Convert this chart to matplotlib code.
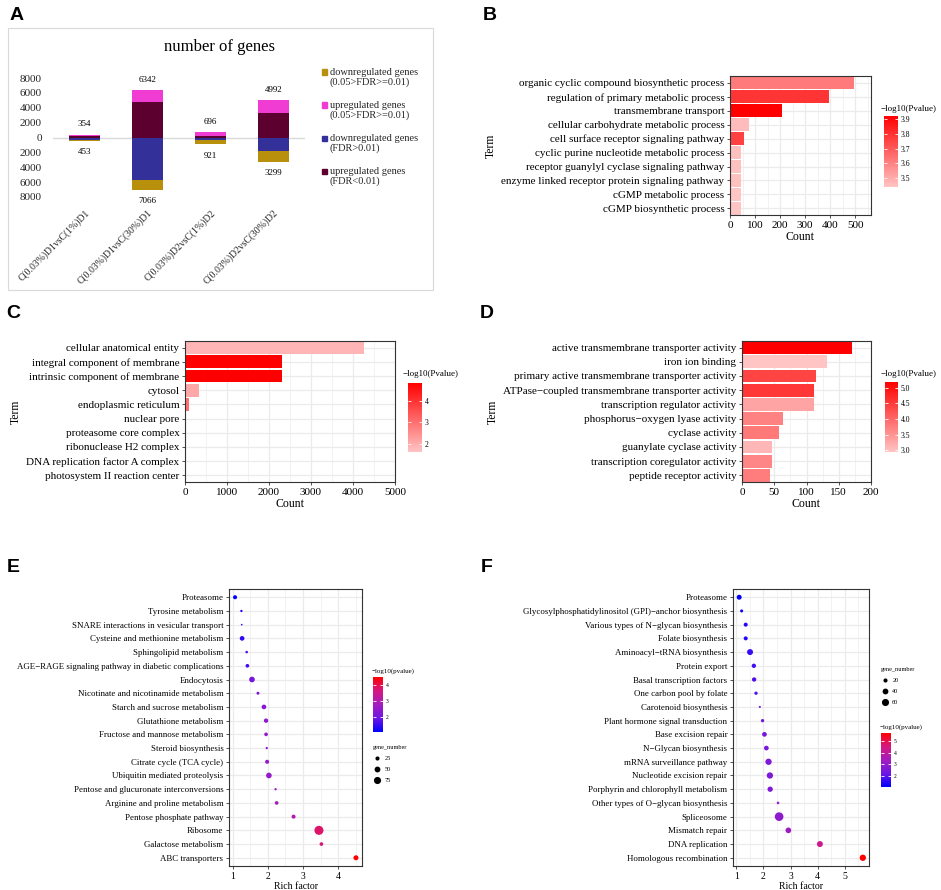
"""Six-panel DEG / GO / KEGG enrichment figure, redrawn with matplotlib."""
import numpy as np
import matplotlib

matplotlib.use("Agg")
import matplotlib.pyplot as plt
from matplotlib.cm import ScalarMappable
from matplotlib.colors import LinearSegmentedColormap, Normalize
from matplotlib.lines import Line2D
from matplotlib.patches import Rectangle
from matplotlib.ticker import MultipleLocator

plt.rcParams["font.family"] = ["Liberation Serif", "DejaVu Serif"]

# ---------------- panel A: number of DEGs ----------------
comparisons = ["C(0.03%)D1vsC(1%)D1", "C(0.03%)D1vsC(30%)D1",
               "C(0.03%)D2vsC(1%)D2", "C(0.03%)D2vsC(30%)D2"]
up_total = np.array([354, 6342, 696, 4992])
up_strong = np.array([180, 4800, 200, 3333])        # FDR<0.01
up_weak = up_total - up_strong                        # 0.05>FDR>=0.01
down_total = np.array([453, 7066, 921, 3299])
down_strong = np.array([330, 5689, 330, 1778])      # FDR>0.01 (as labelled)
down_weak = down_total - down_strong
legend_a = ["downregulated genes\n(0.05>FDR>=0.01)", "upregulated genes\n(0.05>FDR>=0.01)",
            "downregulated genes\n(FDR>0.01)", "upregulated genes\n(FDR<0.01)"]

# ---------------- panel B: GO biological process ----------------
terms_b = ["organic cyclic compound biosynthetic process", "regulation of primary metabolic process",
           "transmembrane transport", "cellular carbohydrate metabolic process",
           "cell surface receptor signaling pathway", "cyclic purine nucleotide metabolic process",
           "receptor guanylyl cyclase signaling pathway",
           "enzyme linked receptor protein signaling pathway",
           "cGMP metabolic process", "cGMP biosynthetic process"]
count_b = [495, 397, 209, 77, 56, 43, 43, 43, 43, 43]
logp_b = [3.62, 3.79, 3.92, 3.46, 3.76, 3.45, 3.45, 3.45, 3.44, 3.44]

# ---------------- panel C: GO cellular component ----------------
terms_c = ["cellular anatomical entity", "integral component of membrane",
           "intrinsic component of membrane", "cytosol", "endoplasmic reticulum",
           "nuclear pore", "proteasome core complex", "ribonuclease H2 complex",
           "DNA replication factor A complex", "photosystem II reaction center"]
count_c = [4262, 2302, 2302, 341, 103, 5, 4, 3, 3, 2]
logp_c = [1.85, 4.86, 4.86, 2.1, 3.0, 1.7, 1.8, 1.7, 1.6, 1.6]

# ---------------- panel D: GO molecular function ----------------
terms_d = ["active transmembrane transporter activity", "iron ion binding",
           "primary active transmembrane transporter activity",
           "ATPase\u2212coupled transmembrane transporter activity",
           "transcription regulator activity", "phosphorus\u2212oxygen lyase activity",
           "cyclase activity", "guanylate cyclase activity",
           "transcription coregulator activity", "peptide receptor activity"]
count_d = [171, 132, 115, 112, 111, 63, 57, 47, 46, 43]
logp_d = [5.18, 2.94, 4.40, 4.55, 3.30, 3.70, 3.80, 3.10, 3.65, 3.75]

# ---------------- panel E: KEGG pathways ----------------
path_e = ["Proteasome", "Tyrosine metabolism", "SNARE interactions in vesicular transport",
          "Cysteine and methionine metabolism", "Sphingolipid metabolism",
          "AGE\u2212RAGE signaling pathway in diabetic complications", "Endocytosis",
          "Nicotinate and nicotinamide metabolism", "Starch and sucrose metabolism",
          "Glutathione metabolism", "Fructose and mannose metabolism", "Steroid biosynthesis",
          "Citrate cycle (TCA cycle)", "Ubiquitin mediated proteolysis",
          "Pentose and glucuronate interconversions", "Arginine and proline metabolism",
          "Pentose phosphate pathway", "Ribosome", "Galactose metabolism", "ABC transporters"]
rich_e = [1.07, 1.25, 1.26, 1.27, 1.40, 1.42, 1.55, 1.72, 1.89, 1.95,
          1.95, 1.97, 1.98, 2.03, 2.22, 2.25, 2.73, 3.45, 3.52, 4.50]
genes_e = [24, 8, 4, 32, 10, 20, 47, 13, 32, 28, 20, 8, 24, 47, 8, 20, 24, 120, 20, 37]
logp_e = [1.04, 1.3, 1.3, 1.4, 1.7, 1.6, 2.0, 2.2, 2.3, 2.4,
          2.5, 2.4, 2.5, 2.5, 2.7, 2.8, 3.0, 3.8, 3.7, 4.51]

# ---------------- panel F: KEGG pathways ----------------
path_f = ["Proteasome", "Glycosylphosphatidylinositol (GPI)\u2212anchor biosynthesis",
          "Various types of N\u2212glycan biosynthesis", "Folate biosynthesis",
          "Aminoacyl\u2212tRNA biosynthesis", "Protein export", "Basal transcription factors",
          "One carbon pool by folate", "Carotenoid biosynthesis",
          "Plant hormone signal transduction", "Base excision repair", "N\u2212Glycan biosynthesis",
          "mRNA surveillance pathway", "Nucleotide excision repair",
          "Porphyrin and chlorophyll metabolism", "Other types of O\u2212glycan biosynthesis",
          "Spliceosome", "Mismatch repair", "DNA replication", "Homologous recombination"]
rich_f = [1.11, 1.20, 1.35, 1.35, 1.51, 1.65, 1.66, 1.73, 1.87, 1.97,
          2.04, 2.11, 2.19, 2.24, 2.25, 2.54, 2.58, 2.92, 4.08, 5.66]
genes_f = [29, 11, 19, 19, 42, 22, 22, 13, 5, 13, 26, 26, 47, 47, 33, 8, 88, 38, 42, 47]
logp_f = [1.12, 1.3, 1.5, 1.5, 1.7, 1.8, 1.9, 2.0, 2.2, 2.3,
          2.4, 2.5, 2.6, 2.6, 2.6, 3.0, 2.9, 3.2, 4.3, 5.63]

W, H = 941, 890
fig = plt.figure(figsize=(W / 100, H / 100), dpi=100)

pink_red = LinearSegmentedColormap.from_list("pr", ["#FFC4C4", "#FF0000"])
blue_red = LinearSegmentedColormap.from_list(
    "br", ["#0000FF", "#6E16E4", "#A41DBE", "#D61880", "#FF0000"])
GRID = "#EBEBEB"
BORDER = "#333333"


def px_axes(x0, y0, x1, y1):
    return fig.add_axes([x0 / W, 1 - y1 / H, (x1 - x0) / W, (y1 - y0) / H])


def fig_text(x, y, s, **kw):
    return fig.text(x / W, 1 - y / H, s, **kw)


def bw_frame(ax, tick_size):
    # ggplot theme_bw look
    for sp in ax.spines.values():
        sp.set_color(BORDER)
        sp.set_linewidth(0.8)
    ax.grid(True, which="major", color=GRID, lw=0.9)
    ax.grid(True, which="minor", axis="x", color=GRID, lw=0.45)
    ax.set_axisbelow(True)
    ax.tick_params(which="major", length=2.5, width=0.6, color=BORDER,
                   labelsize=tick_size, pad=1.5, labelcolor="black")
    ax.tick_params(which="minor", length=0)


def colorbar(rect, norm, cmap, ticks, fmt, title, title_xy, size):
    cax = px_axes(*rect)
    cb = fig.colorbar(ScalarMappable(norm=norm, cmap=cmap), cax=cax, ticks=ticks)
    cb.outline.set_visible(False)
    cb.set_ticklabels([fmt.format(t) for t in ticks])
    cax.tick_params(direction="in", color="white", labelcolor="black", length=2,
                    width=0.6, labelsize=size, left=True, right=True, pad=2)
    fig_text(*title_xy, title, fontsize=size + 1, ha="left", va="center")


def go_bars(rect, terms, counts, logp, xmax, xstep, cb_rect, cb_ticks, cb_fmt, cb_title_xy):
    ax = px_axes(*rect)
    y = np.arange(len(terms))
    norm = Normalize(min(logp), max(logp))
    ax.barh(y, counts, height=0.9, color=pink_red(norm(np.array(logp))), zorder=2)
    ax.set_xlim(0, xmax)
    ax.set_ylim(len(terms) - 1 + 0.47, -0.46)
    ax.set_yticks(y, terms)
    ax.xaxis.set_major_locator(MultipleLocator(xstep))
    ax.xaxis.set_minor_locator(MultipleLocator(xstep / 2))
    bw_frame(ax, 8)
    ax.set_xlabel("Count", fontsize=8.5, labelpad=1)
    ax.set_ylabel("Term", fontsize=8.5, labelpad=3)
    colorbar(cb_rect, norm, pink_red, cb_ticks, cb_fmt, "\u2212log10(Pvalue)", cb_title_xy, 5.5)
    return ax


def kegg_dots(rect, paths, rich, genes, logp, xticks, k, cb_rect, cb_ticks, cb_title_xy,
              size_vals, size_xy):
    ax = px_axes(*rect)
    y = np.arange(len(paths))
    norm = Normalize(min(logp), max(logp))
    ax.scatter(rich, y, s=k * np.array(genes), c=logp, cmap=blue_red, norm=norm,
               linewidths=0, zorder=3)
    span = max(rich) - min(rich)
    ax.set_xlim(min(rich) - 0.05 * span, max(rich) + 0.05 * span)
    ax.set_ylim(len(paths) - 1 + 0.6, -0.6)
    ax.set_yticks(y, paths)
    ax.set_xticks(xticks)
    ax.xaxis.set_minor_locator(MultipleLocator(0.5))
    bw_frame(ax, 6.4)
    ax.tick_params(axis="x", labelsize=7)
    ax.set_xlabel("Rich factor", fontsize=7, labelpad=1)
    colorbar(cb_rect, norm, blue_red, cb_ticks, "{:g}", "\u2212log10(pvalue)", cb_title_xy, 4)
    handles = [Line2D([], [], ls="", marker="o", color="black", markeredgewidth=0,
                      markersize=np.sqrt(k * v)) for v in size_vals]
    ax.legend(handles, [str(v) for v in size_vals], title="gene_number", loc="upper left",
              bbox_to_anchor=(size_xy[0] / W, 1 - size_xy[1] / H),
              bbox_transform=fig.transFigure, frameon=False, fontsize=4.5,
              title_fontsize=4.5, handlelength=1.2, handletextpad=0.6, labelspacing=0.9,
              borderpad=0, borderaxespad=0, alignment="left")
    return ax


# ---------------- draw panel A ----------------
fig.add_artist(Rectangle((8 / W, 1 - 290 / H), 425 / W, 262 / H, transform=fig.transFigure,
                         fill=False, edgecolor="#D9D9D9", lw=0.8))
fig_text(220, 47, "number of genes", fontsize=12, ha="center", va="center")
colors_a = ["#B8900C", "#F03CD2", "#33309A", "#5C0030"]

axA = px_axes(53, 78, 305, 197)
xa = np.arange(len(comparisons))
bw = 0.48
axA.bar(xa, up_strong, bw, color=colors_a[3], zorder=2)
axA.bar(xa, up_weak, bw, bottom=up_strong, color=colors_a[1], zorder=2)
axA.bar(xa, -down_strong, bw, color=colors_a[2], zorder=2)
axA.bar(xa, -down_weak, bw, bottom=-down_strong, color=colors_a[0], zorder=2)
axA.axhline(0, color="#D9D9D9", lw=1.0, zorder=1)
for i in range(len(xa)):
    axA.text(xa[i], up_total[i] + 1400, str(up_total[i]), ha="center", va="center", fontsize=6.5)
    axA.text(xa[i], -down_total[i] - 1500, str(down_total[i]), ha="center", va="center",
             fontsize=6.5)
axA.set_xlim(-0.5, 3.5)
axA.set_ylim(-8000, 8000)
yt = np.arange(-8000, 8001, 2000)
axA.set_yticks(yt, [str(abs(t)) for t in yt])
axA.set_xticks(xa, comparisons, rotation=45, ha="right", rotation_mode="anchor")
axA.tick_params(length=0, labelsize=8, colors="#262626")
axA.tick_params(axis="x", labelsize=7, pad=8)
axA.tick_params(axis="y", pad=8)
for sp in axA.spines.values():
    sp.set_visible(False)
axA.patch.set_alpha(0)

for i, (lab, col) in enumerate(zip(legend_a, colors_a)):
    yc = 72 + 33 * i
    fig.add_artist(Rectangle((322 / W, 1 - (yc + 2.5) / H), 5 / W, 5 / H,
                             transform=fig.transFigure, color=col))
    fig_text(330, yc + 5.5, lab, fontsize=7.5, ha="left", va="center", linespacing=1.1,
             color="#262626")

# ---------------- panels B, C, D ----------------
go_bars((730, 76.3, 871, 215), terms_b, count_b, logp_b, 563, 100,
        (884, 116, 898, 187), [3.5, 3.6, 3.7, 3.8, 3.9], "{:.1f}", (881, 109))
go_bars((185, 341, 395, 482), terms_c, count_c, logp_c, 5000, 1000,
        (408, 383, 422, 452), [2, 3, 4], "{:g}", (403, 374))
go_bars((742, 341, 871, 482), terms_d, count_d, logp_d, 200, 50,
        (885, 382, 898, 452), [3.0, 3.5, 4.0, 4.5, 5.0], "{:.1f}", (881, 374))

# ---------------- panels E, F ----------------
kegg_dots((229, 589, 362, 866), path_e, rich_e, genes_e, logp_e, [1, 2, 3, 4], 0.3525,
          (373, 677, 383, 732), [2, 3, 4], (372, 671), [25, 50, 75], (373, 745))
kegg_dots((733, 589, 869, 866), path_f, rich_f, genes_f, logp_f, [1, 2, 3, 4, 5], 0.44,
          (881, 733, 891, 787), [2, 3, 4, 5], (880, 727), [20, 40, 60], (881, 667))

# ---------------- panel letters ----------------
for letter, x, y in [("A", 17, 15), ("B", 490, 15), ("C", 13, 313),
                     ("D", 487, 313), ("E", 13, 568), ("F", 487, 568)]:
    fig_text(x, y, letter, fontsize=14, fontweight="bold", family="Liberation Sans",
             ha="center", va="center")

fig.savefig("out.png", dpi=100)
